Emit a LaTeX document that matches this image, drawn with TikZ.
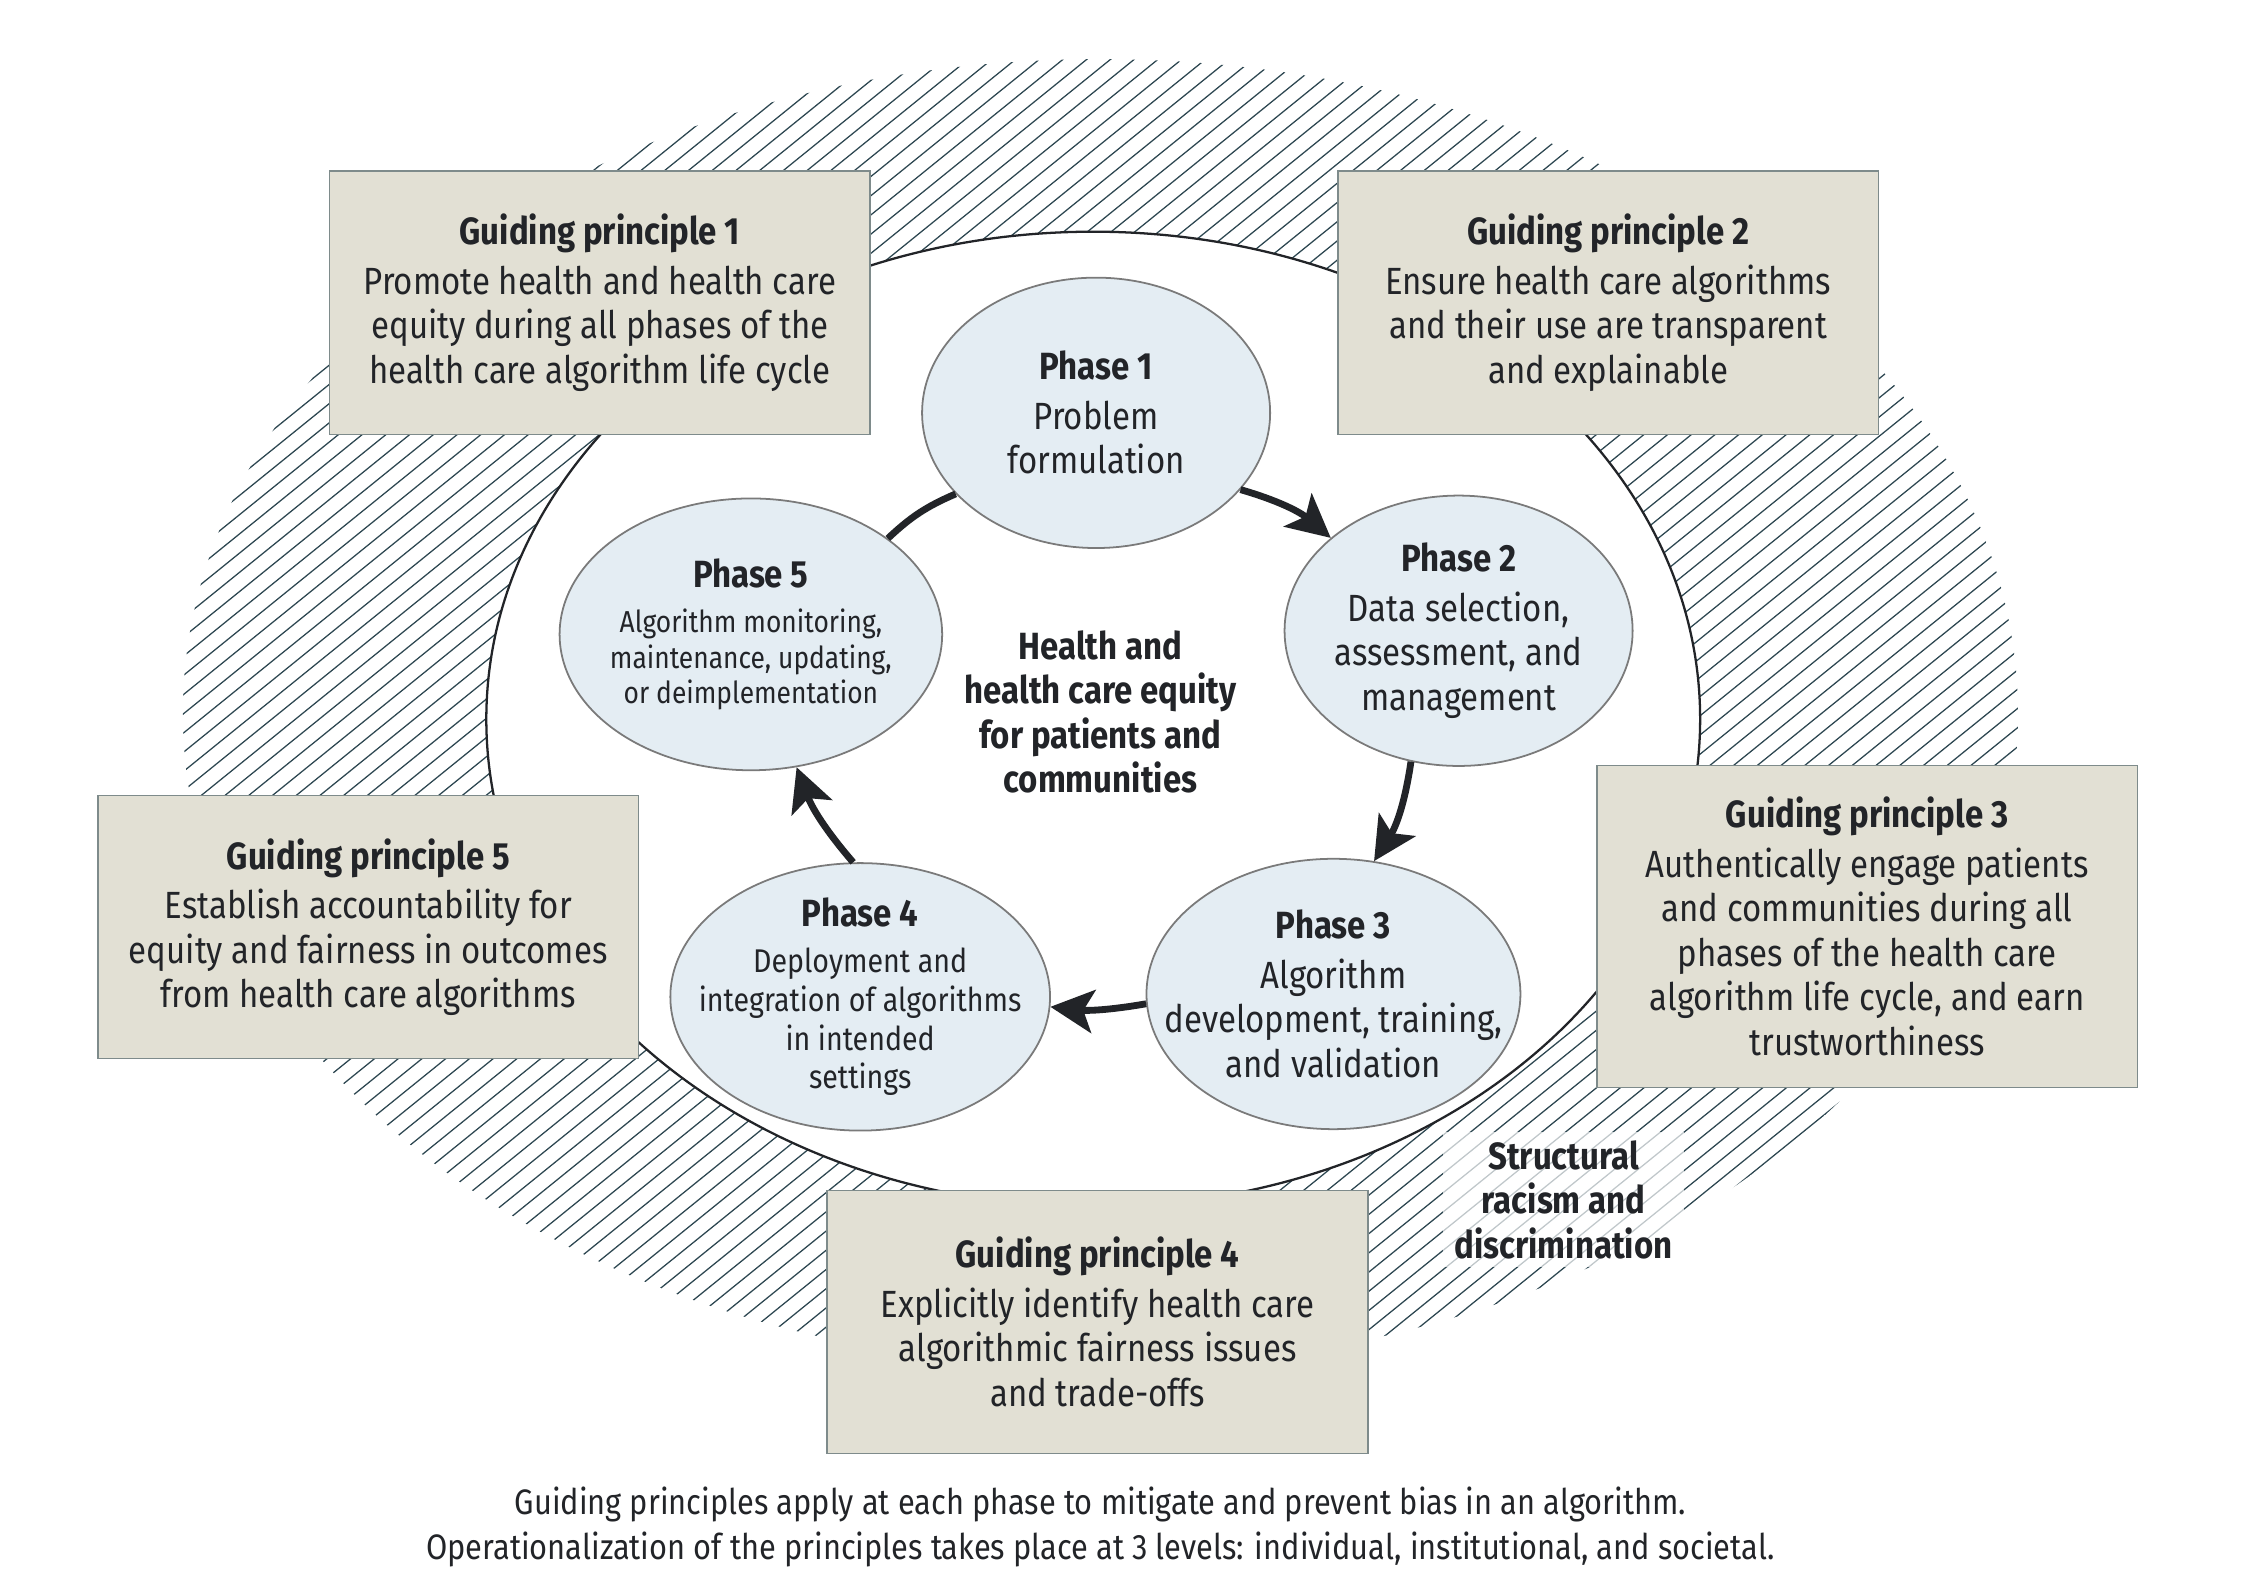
\documentclass[tikz,border=0pt]{standalone}
\usepackage{fontspec}
\setmainfont{Fira Sans}[FakeStretch=0.87]
\usepackage{tikz}
\usetikzlibrary{arrows.meta,shapes.geometric}

\definecolor{boxfill}{HTML}{E2E0D4}
\definecolor{boxline}{HTML}{7E8B8B}
\definecolor{phasefill}{HTML}{E4EDF3}
\definecolor{phaseline}{HTML}{7A7A7A}
\definecolor{hatchcol}{HTML}{2C4650}
\definecolor{ink}{HTML}{222428}

\begin{document}
\begin{tikzpicture}[x=0.02cm, y=-0.02cm,
	principle/.style={draw=boxline, line width=0.6pt, fill=boxfill, minimum width=7.52cm, minimum height=3.66cm, align=center, text=ink, font=\fontsize{15}{17.6}\selectfont},
	phase/.style={ellipse, draw=phaseline, line width=0.7pt, fill=phasefill, inner sep=0pt},
	phasetext/.style={align=center, text=ink, font=\fontsize{15}{17.6}\selectfont},
	loopline/.style={line width=2.7pt, draw=ink},
	looparrow/.style={loopline, -{Stealth[length=0.6cm, width=0.6cm, inset=0.14cm]}}]
	\useasboundingbox (0,0) rectangle (1560,1105.3);

	% hatched ring
	\begin{scope}
		\clip (765,496) ellipse [x radius=12.76cm, y radius=9.1cm];
		\foreach \t in {-1400,-1383.5,...,1560}
			\draw[hatchcol, line width=0.5pt] (\t,1105) -- ++(1365,-1105);
	\end{scope}
	\draw[ink, line width=0.9pt, fill=white] (760,500) ellipse [x radius=8.44cm, y radius=6.78cm];

	% guiding principles
	\node[principle] (gp1) at (417,210.5) {\textbf{Guiding principle 1}\\[2pt] Promote health and health care\\ equity during all phases of the\\ health care algorithm life cycle};
	\node[principle] (gp2) at (1118,210.5) {\textbf{Guiding principle 2}\\[2pt] Ensure health care algorithms\\ and their use are transparent\\ and explainable};
	\node[principle, minimum height=4.48cm] (gp3) at (1298,644) {\textbf{Guiding principle 3}\\[2pt] Authentically engage patients\\ and communities during all\\ phases of the health care\\ algorithm life cycle, and earn\\ trustworthiness};
	\node[principle] (gp4) at (763,919) {\textbf{Guiding principle 4}\\[2pt] Explicitly identify health care\\ algorithmic fairness issues\\ and trade-offs};
	\node[principle] (gp5) at (256,644.5) {\textbf{Guiding principle 5}\\[2pt] Establish accountability for\\ equity and fairness in outcomes\\ from health care algorithms};

	% phases
	\node[phase, minimum width=4.84cm, minimum height=3.76cm] (p1) at (762,287) {};
	\node[phase, minimum width=4.84cm, minimum height=3.76cm] (p2) at (1014,438.5) {};
	\node[phase, minimum width=5.2cm, minimum height=3.76cm] (p3) at (927,691) {};
	\node[phase, minimum width=5.28cm, minimum height=3.72cm] (p4) at (598,693) {};
	\node[phase, minimum width=5.32cm, minimum height=3.78cm] (p5) at (522,441) {};

	\node[phasetext] (p1txt) at (p1) {\textbf{Phase 1}\\[2pt] Problem\\ formulation};
	\node[phasetext] (p2txt) at (p2) {\textbf{Phase 2}\\[2pt] Data selection,\\ assessment, and\\ management};
	\node[phasetext] (p3txt) at (p3) {\textbf{Phase 3}\\[2pt] Algorithm\\ development, training,\\ and validation};
	\node[phasetext, font=\fontsize{13}{15.3}\selectfont] (p4txt) at (p4) {{\fontsize{15}{17.6}\selectfont\bfseries Phase 4}\\[3pt] Deployment and\\ integration of algorithms\\ in intended\\ settings};
	\node[phasetext, font=\fontsize{12}{13.9}\selectfont] (p5txt) at (p5) {{\fontsize{15}{17.6}\selectfont\bfseries Phase 5}\\[4pt] Algorithm monitoring,\\ maintenance, updating,\\ or deimplementation};

	% cycle
	\draw[looparrow] (p1.-28) to[bend left=12] (p2.144);
	\draw[looparrow] (p2.-110) to[bend left=12] (p3.73);
	\draw[looparrow] (p3.183) to[bend left=8] (p4.-3);
	\draw[looparrow] (p4.93) to[bend left=10] (p5.-71);
	\draw[loopline] (p5.35) to[bend left=10] (p1.210);

	\node[phasetext, font=\bfseries\fontsize{15}{17.6}\selectfont] (core) at (765,495) {Health and\\ health care equity\\ for patients and\\ communities};
	\node[phasetext, font=\bfseries\fontsize{15}{17.6}\selectfont, fill=white, fill opacity=0.7, text opacity=1, minimum width=3.36cm, minimum height=1.88cm] (racism) at (1087,834) {Structural\\ racism and\\ discrimination};

	\node[phasetext, font=\fontsize{14}{17.6}\selectfont] (caption) at (765,1061.5) {Guiding principles apply at each phase to mitigate and prevent bias in an algorithm.\\ Operationalization of the principles takes place at 3 levels: individual, institutional, and societal.};
\end{tikzpicture}
\end{document}
